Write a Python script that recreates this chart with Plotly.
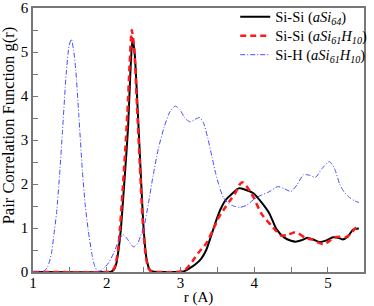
import plotly.graph_objects as go

# Si-Si (aSi64)
r_sisi64 = [1.0, 2.0, 2.06, 2.1, 2.13, 2.16, 2.19, 2.22, 2.25, 2.29, 2.32, 2.35, 2.38, 2.42, 2.46, 2.5, 2.54,
            2.58, 2.62, 2.7, 2.9, 3.04, 3.12, 3.2, 3.28, 3.35, 3.41, 3.5, 3.55, 3.61, 3.7, 3.79, 3.88, 3.99,
            4.1, 4.21, 4.3, 4.41, 4.5, 4.56, 4.64, 4.72, 4.8, 4.89, 4.98, 5.07, 5.14, 5.2, 5.27, 5.34, 5.42]
g_sisi64 = [0, 0, 0.01, 0.06, 0.19, 0.5, 0.94, 1.6, 2.3, 3.3, 4.5, 5.32, 4.95, 3.7, 2.3, 1.0, 0.3,
            0.06, 0.01, 0, 0, 0.01, 0.08, 0.17, 0.3, 0.5, 0.79, 1.24, 1.45, 1.63, 1.78, 1.9, 1.87, 1.79,
            1.58, 1.32, 0.98, 0.78, 0.71, 0.69, 0.72, 0.78, 0.74, 0.68, 0.72, 0.79, 0.78, 0.74, 0.8, 0.96, 0.99]

# Si-Si (aSi61H10)
r_sisi61 = [1.0, 2.0, 2.05, 2.1, 2.13, 2.16, 2.18, 2.23, 2.28, 2.31, 2.34, 2.37, 2.41, 2.45, 2.49, 2.53,
            2.57, 2.61, 2.7, 2.95, 3.05, 3.12, 3.17, 3.25, 3.35, 3.44, 3.52, 3.6, 3.67, 3.74, 3.8, 3.84,
            3.9, 3.99, 4.1, 4.23, 4.3, 4.36, 4.45, 4.54, 4.6, 4.69, 4.8, 4.88, 4.94, 5.0, 5.09, 5.16, 5.24,
            5.3, 5.36, 5.42]
g_sisi61 = [0, 0, 0.01, 0.08, 0.25, 0.6, 1.0, 2.2, 3.6, 4.7, 5.5, 5.15, 3.8, 2.4, 1.1, 0.35,
            0.07, 0.01, 0, 0, 0.03, 0.15, 0.26, 0.45, 0.65, 0.95, 1.24, 1.45, 1.62, 1.78, 1.98, 2.04,
            1.94, 1.7, 1.32, 1.06, 0.93, 0.83, 0.84, 0.9, 0.88, 0.78, 0.73, 0.66, 0.63, 0.68, 0.79, 0.8, 0.79,
            0.85, 0.97, 1.08]

# Si-H (aSi61H10)
r_sih = [1.0, 1.1, 1.15, 1.2, 1.25, 1.28, 1.32, 1.36, 1.4, 1.45, 1.49, 1.52, 1.55, 1.58, 1.62, 1.67, 1.71,
         1.75, 1.8, 1.84, 1.88, 1.92, 1.97, 2.03, 2.1, 2.16, 2.22, 2.28, 2.33, 2.37, 2.42, 2.46, 2.51, 2.57,
         2.63, 2.7, 2.78, 2.86, 2.93, 2.99, 3.06, 3.13, 3.2, 3.26, 3.31, 3.37, 3.43, 3.48, 3.53, 3.58, 3.65,
         3.72, 3.81, 3.9, 4.01, 4.1, 4.2, 4.32, 4.4, 4.5, 4.58, 4.67, 4.75, 4.83, 4.92, 5.02, 5.09, 5.16,
         5.22, 5.29, 5.36, 5.42]
g_sih = [0, 0, 0.02, 0.12, 0.42, 0.8, 1.35, 2.2, 3.2, 4.5, 5.15, 5.29, 5.05, 4.6, 3.6, 2.3, 1.5,
         0.94, 0.4, 0.12, 0.02, 0.03, 0.1, 0.22, 0.45, 0.7, 0.85, 0.75, 0.62, 0.57, 0.65, 0.82, 1.06, 1.6,
         2.2, 2.8, 3.3, 3.65, 3.77, 3.7, 3.5, 3.41, 3.47, 3.51, 3.4, 3.05, 2.6, 2.23, 1.93, 1.7, 1.56,
         1.5, 1.47, 1.52, 1.67, 1.75, 1.82, 1.94, 1.9, 1.83, 1.98, 2.21, 2.2, 2.15, 2.35, 2.51, 2.35, 2.0,
         1.82, 1.7, 1.62, 1.58]

names = ["Si-Si (<i>aSi</i><sub><i>64</i></sub>)",
         "Si-Si (<i>aSi</i><sub><i>61</i></sub><i>H</i><sub><i>10</i></sub>)",
         "Si-H (<i>aSi</i><sub><i>61</i></sub><i>H</i><sub><i>10</i></sub>)"]
x_title = "r (A)"
y_title = "Pair Correlation Function g(r)"

SERIF = "Liberation Serif, Times New Roman, Times, serif"


def big(label):
    return '<span style="font-size:14.5px">' + label + "</span>"


fig = go.Figure()
fig.add_trace(go.Scatter(x=r_sisi64, y=g_sisi64, mode="lines", name=big(names[0]),
                         line=dict(color="black", width=2, shape="spline", smoothing=0.6)))
fig.add_trace(go.Scatter(x=r_sisi61, y=g_sisi61, mode="lines", name=big(names[1]),
                         line=dict(color="#ff1a1a", width=2.5, dash="6px,4px", shape="spline", smoothing=0.6)))
fig.add_trace(go.Scatter(x=r_sih, y=g_sih, mode="lines", name=big(names[2]),
                         line=dict(color="#4a4aff", width=1, dash="5px,2px,1px,2px", shape="spline", smoothing=0.6)))

axis_common = dict(showgrid=False, zeroline=False, showline=True, mirror=True, linecolor="#777777",
                   linewidth=1.5, ticks="inside", ticklen=5, tickcolor="#777777", tickwidth=1,
                   automargin=False,
                   tickfont=dict(family=SERIF, size=15, color="black"),
                   minor=dict(ticks="inside", ticklen=5, tickcolor="#777777", dtick=0.5))

fig.update_xaxes(range=[1, 5.49], dtick=1, tick0=1, ticklabelstandoff=-4,
                 title=dict(text=x_title, font=dict(family=SERIF, size=15, color="black"), standoff=0),
                 **axis_common)
fig.update_yaxes(range=[0, 6], dtick=1, tick0=0, **axis_common)

fig.add_annotation(text=y_title, textangle=-90, xref="paper", yref="paper",
                   x=-0.073, y=0.555, xanchor="center", yanchor="middle", showarrow=False,
                   font=dict(family=SERIF, size=16.5, color="black"))

fig.update_layout(
    width=374, height=306,
    margin=dict(l=33, r=2, t=7, b=34),
    plot_bgcolor="white", paper_bgcolor="white",
    font=dict(family=SERIF),
    showlegend=True,
    legend=dict(x=0.611, y=1.022, xanchor="left", yanchor="top", bgcolor="rgba(0,0,0,0)",
                font=dict(family=SERIF, size=12.3, color="black"),
                tracegroupgap=0, itemwidth=30),
)

fig.write_html("out.html", config={"displayModeBar": False},
               post_script="document.body.style.margin='0';")
